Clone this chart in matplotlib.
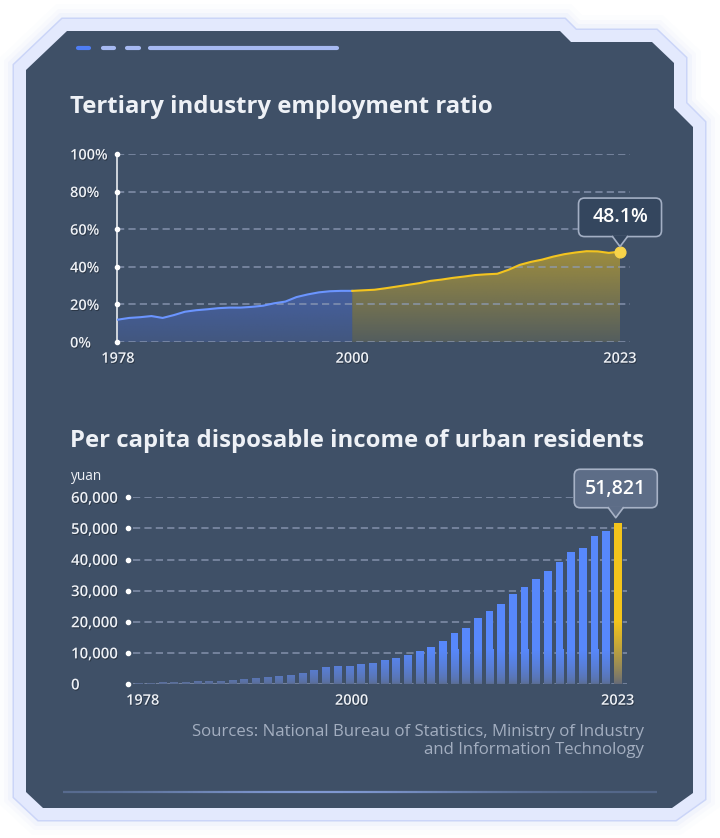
import numpy as np
import matplotlib.pyplot as plt
from matplotlib.patches import Polygon, FancyBboxPatch
from matplotlib.collections import LineCollection
from matplotlib import patheffects
from matplotlib.colors import to_rgb

plt.rcParams['font.family'] = ['Open Sans', 'DejaVu Sans']
plt.rcParams['lines.scale_dashes'] = False

############################ DATA ############################

# tertiary industry employment ratio (%), evenly spaced points, split at "2000"
emp_before = [11.9, 12.8, 13.2, 13.8, 12.8, 14.3, 16.1, 16.9, 17.4, 18.0, 18.3,
              18.3, 18.7, 19.3, 20.6, 21.5, 23.9, 25.3, 26.4, 27.0, 27.2, 27.2]
emp_after = [27.5, 27.8, 28.6, 29.5, 30.4, 31.3, 32.5, 33.2, 34.1, 34.8, 35.6,
             36.0, 36.3, 38.4, 41.0, 42.6, 43.8, 45.4, 46.7, 47.6, 48.3, 48.2,
             47.4, 48.1]
emp_ticks = [0, 20, 40, 60, 80, 100]
emp_tick_labels = ['0%', '20%', '40%', '60%', '80%', '100%']
emp_last_label = '48.1%'

# per capita disposable income of urban residents (yuan)
income = [380, 420, 560, 650, 740, 900, 1000, 1100, 1290, 1500, 1820, 2140,
          2570, 2890, 3640, 4500, 5360, 5790, 5850, 6280, 6860, 7703, 8472,
          9422, 10493, 11759, 13786, 16300, 18100, 21100, 23500, 25800, 28844,
          31195, 33616, 36396, 39251, 42359, 43834, 47412, 49283, 51821]
inc_ticks = [0, 10000, 20000, 30000, 40000, 50000, 60000]
inc_tick_labels = ['0', '10,000', '20,000', '30,000', '40,000', '50,000', '60,000']
inc_last_label = '51,821'

year_labels = ['1978', '2000', '2023']

######################### FIGURE ############################

W, H = 720, 838
fig = plt.figure(figsize=(W / 100, H / 100), dpi=100)
fig.patch.set_facecolor('white')

CARD = '#3f5067'
TXT = '#eef1f6'
GRID = '#8f9cb7'


def px_axes(x0, y0, x1, y1, z):
    return fig.add_axes([x0 / W, 1 - y1 / H, (x1 - x0) / W, (y1 - y0) / H], zorder=z)


bg = fig.add_axes([0, 0, 1, 1], zorder=0)
bg.set_xlim(0, W)
bg.set_ylim(H, 0)
bg.axis('off')

fg = fig.add_axes([0, 0, 1, 1], zorder=20)
fg.set_xlim(0, W)
fg.set_ylim(H, 0)
fg.axis('off')
fg.patch.set_alpha(0)

# card frame
card = [(67, 31), (560, 31), (571, 42), (652, 42), (674, 63), (674, 108), (693, 127),
        (693, 793), (672, 808), (43, 808), (26, 792), (26, 70)]
for lw, a in [(54, 0.04), (44, 0.07), (36, 0.12)]:
    bg.add_patch(Polygon(card, closed=True, fill=False, ec='#c5d0fb', lw=lw * 0.72,
                         alpha=a, joinstyle='miter'))
bg.add_patch(Polygon(card, closed=True, fill=False, ec='#cbd5f8', lw=27 * 0.72, joinstyle='miter'))
bg.add_patch(Polygon(card, closed=True, fill=False, ec='#e3e9fd', lw=24 * 0.72, joinstyle='miter'))
bg.add_patch(Polygon(card, closed=True, fc=CARD, ec='none'))

# header decoration
bg.plot([78, 89], [48.5, 48.5], color='#4f7ef5', lw=3, solid_capstyle='round')
for xa, xb in [(103, 114), (127, 139), (150, 337)]:
    bg.plot([xa, xb], [48.5, 48.5], color='#a6b9f2', lw=3, solid_capstyle='round')

# bottom glow line
xs = np.linspace(63, 657, 120)
segs = [[(xs[i], 792), (xs[i + 1], 792)] for i in range(len(xs) - 1)]
mid = (xs[:-1] + xs[1:]) / 2
al = 0.25 + 0.6 * np.exp(-((mid - 320) / 170) ** 2)
cols = [(0.55, 0.65, 0.9, a) for a in al]
bg.add_collection(LineCollection(segs, colors=cols, linewidths=1.6))

# titles
fg.text(70, 107, 'Tertiary industry employment ratio', fontsize=17.2, fontweight='bold',
        color=TXT, ha='left', va='center')
fg.text(70, 441, 'Per capita disposable income of urban residents', fontsize=17.2,
        fontweight='bold', color=TXT, ha='left', va='center')

shadow = [patheffects.SimplePatchShadow(offset=(0.6, -0.8), shadow_rgbFace='k', alpha=0.3),
          patheffects.Normal()]


def vgrad(top, bottom, alpha_top, alpha_bottom, n=256, power=1.0):
    t = np.linspace(1, 0, n) ** power
    c1, c2 = np.array(to_rgb(top)), np.array(to_rgb(bottom))
    rgb = c2[None, :] * (1 - t[:, None]) + c1[None, :] * t[:, None]
    a = alpha_bottom + (alpha_top - alpha_bottom) * t
    return np.dstack([rgb[:, None, :], a[:, None, None]])


######################### CHART 1 ############################

ax1 = px_axes(117, 154, 630, 342, 5)
ax1.patch.set_alpha(0)
xb = np.arange(len(emp_before))
xa = np.arange(len(emp_before) - 1, len(emp_before) - 1 + len(emp_after) + 1)
ya = [emp_before[-1]] + emp_after

# gradient areas
for xx, yy, col, at, ab, top in [(xb, emp_before, '#4d70d6', 0.55, 0.22, 30),
                                 (xa, ya, '#f0c21c', 0.55, 0.12, 50)]:
    poly = ax1.fill_between(xx, yy, 0, color='none', lw=0)
    im = ax1.imshow(vgrad(col, col, at, ab), extent=[xx[0], xx[-1], 0, top],
                    aspect='auto', interpolation='bilinear', zorder=1)
    im.set_clip_path(poly.get_paths()[0], ax1.transData)

for yv in emp_ticks:
    ax1.axhline(yv, color=GRID, lw=1.1, ls=(0, (5.2, 3.0)), alpha=0.85, zorder=2)

ax1.plot(xb, emp_before, color='#6b95ff', lw=1.5, zorder=3)
ax1.plot(xa, ya, color='#f3c41f', lw=1.5, zorder=3)
ax1.scatter([xa[-1]], [ya[-1]], s=60, color='#f8d44a', zorder=4, clip_on=False)

x_left1 = (117 - 118) / 11.156
ax1.set_xlim(x_left1, (630 - 118) / 11.156)
ax1.set_ylim(0, 100)
for s in ['top', 'right', 'bottom']:
    ax1.spines[s].set_visible(False)
ax1.spines['left'].set_color('#e8ebf1')
ax1.spines['left'].set_linewidth(1.2)
ax1.scatter([x_left1] * len(emp_ticks), emp_ticks, s=9, color='white', zorder=6, clip_on=False)

ax1.set_yticks(emp_ticks, emp_tick_labels)
ax1.set_xticks([0, len(emp_before) - 1, xa[-1]], year_labels)
ax1.tick_params(axis='y', length=0, pad=33.8, labelsize=10.5, labelcolor=TXT)
ax1.tick_params(axis='x', length=0, pad=7, labelsize=10.5, labelcolor=TXT)
for lab in ax1.get_yticklabels():
    lab.set_ha('left')
for lab in ax1.get_yticklabels() + ax1.get_xticklabels():
    lab.set_fontweight('semibold')
    lab.set_path_effects(shadow)

######################### CHART 2 ############################

ax2 = px_axes(128, 497.3, 627, 684, 5)
ax2.patch.set_alpha(0)
x2 = np.arange(len(income))
step2 = 11.67
x_left2 = (128 - 139.3) / step2
ax2.set_xlim(x_left2, (627 - 139.3) / step2)
ax2.set_ylim(0, 60000)

ax2.hlines(inc_ticks, -0.5, ax2.get_xlim()[1], color=GRID, lw=1.1, ls=(0, (5.2, 3.0)),
           alpha=0.85, zorder=1)

bars = ax2.bar(x2, income, width=0.66, color='none', lw=0, zorder=3)
blue_img = vgrad('#5788fc', '#5b6c8f', 1, 1, power=0.6)
for i, b in enumerate(bars):
    if i == len(income) - 1:
        img = vgrad('#f3c41b', '#656a78', 1, 1, power=0.8)
        top = 20000
    else:
        img = blue_img
        top = 11000
    im = ax2.imshow(img, extent=[x2[i] - 0.33, x2[i] + 0.33, 0, top], aspect='auto',
                    interpolation='bilinear', zorder=3)
    im.set_clip_path(b)
    if income[i] > top:
        solid = '#f3c41b' if i == len(income) - 1 else '#5788fc'
        ax2.bar(x2[i], income[i] - top, bottom=top, width=0.66, color=solid, lw=0, zorder=3)

ax2.set_xlim(x_left2, (627 - 139.3) / step2)
ax2.set_ylim(0, 60000)
for s in ax2.spines.values():
    s.set_visible(False)
ax2.scatter([x_left2] * len(inc_ticks), inc_ticks, s=9, color='white', zorder=6, clip_on=False)

ax2.set_yticks(inc_ticks, inc_tick_labels)
ax2.set_xticks([0.3, 18.2, x2[-1]], year_labels)
ax2.tick_params(axis='y', length=0, pad=41, labelsize=10.8, labelcolor=TXT)
ax2.tick_params(axis='x', length=0, pad=7, labelsize=10.5, labelcolor=TXT)
for lab in ax2.get_yticklabels():
    lab.set_ha('left')
for lab in ax2.get_yticklabels() + ax2.get_xticklabels():
    lab.set_fontweight('semibold')
    lab.set_path_effects(shadow)

fg.text(71, 476, 'yuan', fontsize=9.8, color=TXT, ha='left', va='center')

######################### TOOLTIPS ###########################


def to_px(ax, x, y):
    return fg.transData.inverted().transform(ax.transData.transform((x, y)))


def tooltip(cx, tip_y, text, fc, ec):
    w, h = 83, 38.5
    by = tip_y - 10
    fg.add_patch(FancyBboxPatch((cx - w / 2, by - h), w, h,
                                boxstyle='round,pad=0,rounding_size=6',
                                fc=fc, ec=ec, lw=1.2, zorder=2))
    fg.add_patch(Polygon([(cx - 7.5, by - 1.2), (cx + 7.5, by - 1.2), (cx, tip_y)],
                         closed=True, fc=fc, ec='none', zorder=3))
    fg.plot([cx - 7.5, cx, cx + 7.5], [by, tip_y, by], color=ec, lw=1.2, zorder=4)
    fg.text(cx, by - h / 2, text, fontsize=14, fontweight='semibold', color='white',
            ha='center', va='center', zorder=5)


px1 = to_px(ax1, xa[-1], ya[-1])
tooltip(px1[0], px1[1] - 5, emp_last_label, '#34465e', '#a3afc4')
px2 = to_px(ax2, x2[-1], income[-1])
tooltip(px2[0] - 2, px2[1] - 5, inc_last_label, '#5d6d87', '#a7b2c6')

# source
fg.text(644, 732, 'Sources: National Bureau of Statistics, Ministry of Industry',
        fontsize=12.1, color='#a3aec0', ha='right', va='center')
fg.text(644, 750, 'and Information Technology', fontsize=12.1, color='#a3aec0',
        ha='right', va='center')

plt.savefig('out.png', dpi=100)
